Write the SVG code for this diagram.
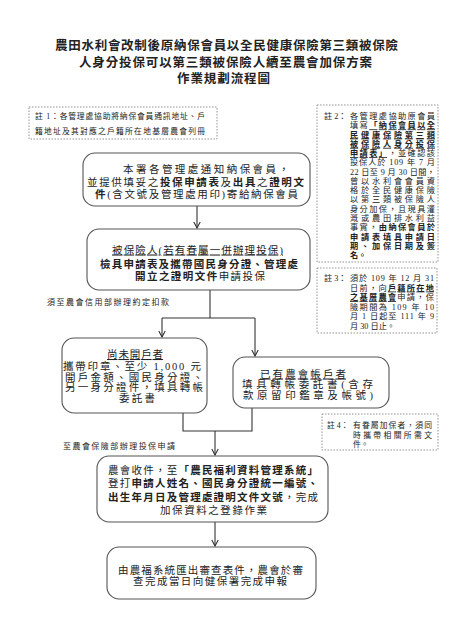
<svg xmlns="http://www.w3.org/2000/svg" width="450" height="636" viewBox="0 0 450 636">
<style>
text{font-family:"Liberation Serif","Noto Sans CJK TC","Noto Sans CJK SC",serif;fill:#222}
.tt{font-size:12.5px;font-weight:bold}
.m{font-size:10.5px}
.s{font-size:8.2px}
.xs{font-size:7.8px}
.lb{font-size:8px}
.b{font-weight:bold}
.u{text-decoration:underline}
.box{fill:#fff;stroke:#555;stroke-width:1.1}
.note{fill:none;stroke:#888;stroke-width:0.9;stroke-dasharray:1.5 1.5}
.ln{fill:none;stroke:#333;stroke-width:1.1}
</style>
<defs>
<marker id="ar" viewBox="0 0 8 8" refX="7" refY="4" markerWidth="8" markerHeight="8" markerUnits="userSpaceOnUse" orient="auto">
<path d="M1,0.8 L7,4 L1,7.2" fill="none" stroke="#333" stroke-width="1.1"/>
</marker>
</defs>
<rect width="450" height="636" fill="#fff"/>

<g id="title">
<text class="tt" x="55" y="50" textLength="343">農田水利會改制後原納保會員以全民健康保險第三類被保險</text>
<text class="tt" x="79" y="67" textLength="293">人身分投保可以第三類被保險人續至農會加保方案</text>
<text class="tt" x="177" y="83" textLength="93">作業規劃流程圖</text>
</g>

<g id="connectors">
<line class="ln" x1="197" y1="206" x2="197" y2="228" marker-end="url(#ar)"/>
<polyline class="ln" points="210,290 210,318"/>
<polyline class="ln" points="162,318 255,318"/>
<line class="ln" x1="162" y1="318" x2="162" y2="337" marker-end="url(#ar)"/>
<line class="ln" x1="255" y1="318" x2="255" y2="356" marker-end="url(#ar)"/>
<polyline class="ln" points="183,413 183,431 252,431 252,408"/>
<line class="ln" x1="215" y1="431" x2="215" y2="455" marker-end="url(#ar)"/>
<line class="ln" x1="215" y1="522" x2="215" y2="546" marker-end="url(#ar)"/>
</g>

<g id="note1">
<rect class="note" x="29" y="107" width="188" height="32"/>
<text class="xs" x="35" y="119" textLength="170">註 1：各管理處協助將納保會員通訊地址、戶</text>
<text class="xs" x="35" y="134" textLength="170">籍地址及其對應之戶籍所在地基層農會列冊</text>
</g>

<g id="note2">
<rect class="note" x="317" y="105" width="121" height="157"/>
<text class="s" x="324" y="119">註 2：</text>
<text class="s" x="350" y="119" textLength="85">各管理處協助原會員</text>
<text class="s" x="350" y="128.3" textLength="85">填寫<tspan class="b u">「納保會員以全</tspan></text>
<text class="s" x="350" y="137.5" textLength="85"><tspan class="b u">民健康保險第三類</tspan></text>
<text class="s" x="350" y="146.8" textLength="85"><tspan class="b u">被保險人身分投保</tspan></text>
<text class="s" x="350" y="156.1" textLength="85"><tspan class="b u">申請表」</tspan>，並確認該</text>
<text class="s" x="350" y="165.4" textLength="85">投保人於 109 年 7 月</text>
<text class="s" x="350" y="174.6" textLength="85">22 日至 9 月 30 日間，</text>
<text class="s" x="350" y="183.9" textLength="85">曾以水利會會員資</text>
<text class="s" x="350" y="193.2" textLength="85">格於全民健康保險</text>
<text class="s" x="350" y="202.4" textLength="85">以第三類被保險人</text>
<text class="s" x="350" y="211.7" textLength="85">身分加保，且現具灌</text>
<text class="s" x="350" y="221" textLength="85">溉或農田排水利益</text>
<text class="s" x="350" y="230.2" textLength="85">事實，<tspan class="b">由納保會員於</tspan></text>
<text class="s b" x="350" y="239.5" textLength="85">申請表填具申請日</text>
<text class="s b" x="350" y="248.8" textLength="85">期、加保日期及簽</text>
<text class="s b" x="350" y="258">名。</text>
</g>

<g id="note3">
<rect class="note" x="317" y="268" width="120" height="65"/>
<text class="s" x="324" y="281">註 3：</text>
<text class="s" x="350" y="281" textLength="84">須於 109 年 12 月 31</text>
<text class="s" x="350" y="290.5" textLength="84">日前，向<tspan class="b u">戶籍所在地</tspan></text>
<text class="s" x="350" y="300" textLength="84"><tspan class="b u">之基層農會</tspan>申請，保</text>
<text class="s" x="350" y="309.5" textLength="84">險期間為 109 年 10</text>
<text class="s" x="350" y="319" textLength="84">月 1 日起至 111 年 9</text>
<text class="s" x="350" y="328.5">月 30 日止。</text>
</g>

<g id="note4">
<rect class="note" x="322" y="414" width="116" height="36"/>
<text class="xs" x="327" y="428">註 4：</text>
<text class="xs" x="353" y="428" textLength="79">有眷屬加保者，須同</text>
<text class="xs" x="353" y="437.5" textLength="79">時攜帶相關所需文</text>
<text class="xs" x="353" y="447">件。</text>
</g>

<g id="box1">
<rect class="box" x="83" y="153" width="227" height="53" rx="12"/>
<text class="m" x="123" y="173" textLength="166">本署各管理處通知納保會員，</text>
<text class="m" x="87" y="185.5" textLength="217">並提供填妥之<tspan class="b">投保申請表</tspan>及<tspan class="b">出具</tspan>之<tspan class="b">證明文</tspan></text>
<text class="m" x="95" y="197.5" textLength="203"><tspan class="b">件</tspan>(含文號及管理處用印)寄給納保會員</text>
</g>

<g id="box2">
<rect class="box" x="87" y="229" width="223" height="61" rx="12"/>
<text class="m u" x="112" y="253.5" textLength="171">被保險人(若有眷屬一併辦理投保)</text>
<text class="m b" x="100" y="268" textLength="198">檢具申請表及攜帶國民身分證、管理處</text>
<text class="m" x="135" y="280" textLength="130"><tspan class="b">開立之證明文件</tspan>申請投保</text>
</g>

<g id="label1">
<text class="lb" x="47" y="305" textLength="122">須至農會信用部辦理約定扣款</text>
</g>

<g id="box3">
<rect class="box" x="62" y="338" width="145" height="75" rx="12"/>
<text class="m u" x="107" y="358" textLength="56">尚未開戶者</text>
<text class="m" x="63" y="370" textLength="138">攜帶印章、至少 1,000 元</text>
<text class="m" x="65" y="380.5" textLength="138">開戶金額、國民身分證、</text>
<text class="m" x="65" y="391" textLength="138">另一身分證件，填具轉帳</text>
<text class="m" x="119" y="401.5" textLength="36">委託書</text>
</g>

<g id="box4">
<rect class="box" x="233" y="357" width="156" height="51" rx="12"/>
<text class="m u" x="260" y="377.5" textLength="86">已有農會帳戶者</text>
<text class="m" x="242" y="388" textLength="131">填具轉帳委託書(含存</text>
<text class="m" x="243" y="398.5" textLength="130">款原留印鑑章及帳號)</text>
</g>

<g id="label2">
<text class="lb" x="63" y="449" textLength="112">至農會保險部辦理投保申請</text>
</g>

<g id="box5">
<rect class="box" x="97" y="456" width="231" height="66" rx="12"/>
<text class="m" x="108" y="473.5" textLength="210">農會收件，至<tspan class="b">「農民福利資料管理系統」</tspan></text>
<text class="m" x="108" y="486.5" textLength="210">登打<tspan class="b">申請人姓名、國民身分證統一編號、</tspan></text>
<text class="m" x="108" y="501" textLength="210"><tspan class="b">出生年月日及管理處證明文件文號</tspan>，完成</text>
<text class="m" x="160" y="514" textLength="107">加保資料之登錄作業</text>
</g>

<g id="box6">
<rect class="box" x="107" y="547" width="209" height="52" rx="12"/>
<text class="m" x="118" y="574" textLength="185">由農福系統匯出審查表件，農會於審</text>
<text class="m" x="133" y="585" textLength="154">查完成當日向健保署完成申報</text>
</g>
</svg>
